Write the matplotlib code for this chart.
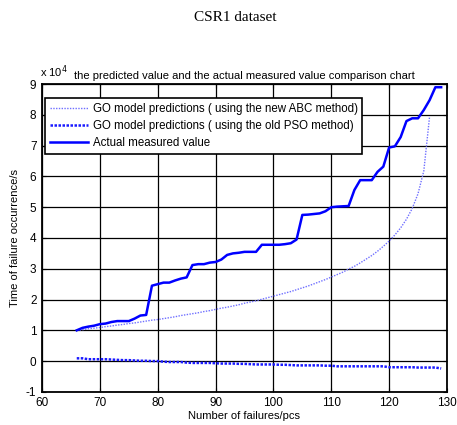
"""
CSR1 数据集：GO 模型预测值与实际测量值对比
"""
import numpy as np
import matplotlib
matplotlib.use("Agg")
import matplotlib.pyplot as plt

plt.rcParams['font.family'] = ['Liberation Sans', 'DejaVu Sans']
plt.rcParams['axes.unicode_minus'] = False

# 失效次数（实测从 66 到 129）
n_actual = list(range(66, 130))
t_actual = [1.00, 1.08, 1.12, 1.15, 1.20, 1.22, 1.27, 1.30, 1.30, 1.30,
            1.38, 1.48, 1.50, 2.45, 2.50, 2.55, 2.55, 2.62, 2.68, 2.72,
            3.12, 3.15, 3.15, 3.20, 3.22, 3.30, 3.45, 3.50, 3.52, 3.55,
            3.55, 3.55, 3.78, 3.78, 3.78, 3.78, 3.80, 3.83, 3.95, 4.75,
            4.76, 4.78, 4.80, 4.87, 5.00, 5.02, 5.03, 5.04, 5.56, 5.88,
            5.88, 5.88, 6.15, 6.32, 6.94, 6.98, 7.28, 7.80, 7.89, 7.89,
            8.16, 8.48, 8.90, 8.90]

# ABC 方法预测（到 127 为止）
n_abc = list(range(66, 128))
t_abc = [1.00, 1.02, 1.05, 1.07, 1.09, 1.12, 1.14, 1.17, 1.19, 1.22,
         1.24, 1.27, 1.30, 1.33, 1.35, 1.38, 1.41, 1.44, 1.48, 1.51,
         1.54, 1.57, 1.61, 1.64, 1.68, 1.72, 1.75, 1.79, 1.83, 1.88,
         1.92, 1.96, 2.01, 2.06, 2.11, 2.16, 2.21, 2.26, 2.32, 2.38,
         2.44, 2.51, 2.58, 2.65, 2.73, 2.81, 2.89, 2.99, 3.08, 3.19,
         3.31, 3.43, 3.57, 3.73, 3.90, 4.10, 4.33, 4.61, 4.96, 5.44,
         6.18, 7.95]

# PSO 方法预测
n_pso = list(range(66, 130))
t_pso = [0.09, 0.09, 0.06, 0.06, 0.06, 0.06, 0.05, 0.04, 0.03, 0.03,
         0.02, 0.01, 0.01, 0.00, 0.00, -0.02, -0.03, -0.03, -0.03, -0.05,
         -0.06, -0.06, -0.06, -0.06, -0.07, -0.08, -0.08, -0.08, -0.09, -0.09,
         -0.10, -0.11, -0.11, -0.11, -0.11, -0.12, -0.12, -0.13, -0.14, -0.14,
         -0.14, -0.14, -0.14, -0.15, -0.15, -0.17, -0.17, -0.17, -0.17, -0.17,
         -0.17, -0.17, -0.17, -0.17, -0.20, -0.20, -0.20, -0.20, -0.20, -0.21,
         -0.21, -0.21, -0.21, -0.24]

fig = plt.figure(figsize=(4.57, 4.25), dpi=100)
ax = fig.add_axes([0.092, 0.078, 0.886, 0.724])

ax.plot(n_abc, t_abc, color="#6f6fff", linestyle=(0, (1, 1)), linewidth=1.0,
        label="GO model predictions ( using the new ABC method)")
ax.plot(n_pso, t_pso, color="#1a1aff", linestyle=(0, (1, 0.6)), linewidth=1.8,
        label="GO model predictions ( using the old PSO method)")
ax.plot(n_actual, t_actual, color="#0000ff", linewidth=1.8,
        label="Actual measured value")

ax.set_xlim(60, 130)
ax.set_ylim(-1, 9)
ax.set_xticks(range(60, 131, 10))
ax.set_yticks(range(-1, 10))
ax.grid(True, color="black", linestyle="-", linewidth=0.9)
ax.tick_params(direction="in", top=True, right=True, labelsize=8.5, length=3,
               pad=4)
for s in ax.spines.values():
    s.set_linewidth(1.3)

ax.set_xlabel("Number of failures/pcs", fontsize=8, labelpad=1)
ax.set_ylabel("Time of failure occurrence/s", fontsize=8, labelpad=4)
ax.set_title("the predicted value and the actual measured value comparison chart",
             fontsize=8, pad=4)
ax.text(-0.005, 1.012, r"x 10$^4$", transform=ax.transAxes, fontsize=8,
        ha="left", va="bottom")

leg = ax.legend(loc="upper left", bbox_to_anchor=(0.008, 0.955), fontsize=8.3,
                fancybox=False, framealpha=1, edgecolor="black",
                borderaxespad=0.0, handlelength=3.3, handletextpad=0.4,
                labelspacing=0.45, borderpad=0.4)
leg.get_frame().set_linewidth(1.2)

fig.text(0.515, 0.958, "CSR1 dataset", fontsize=11, ha="center", va="center",
         family=["Liberation Serif", "DejaVu Serif"])

fig.savefig("out.png", dpi=100)
